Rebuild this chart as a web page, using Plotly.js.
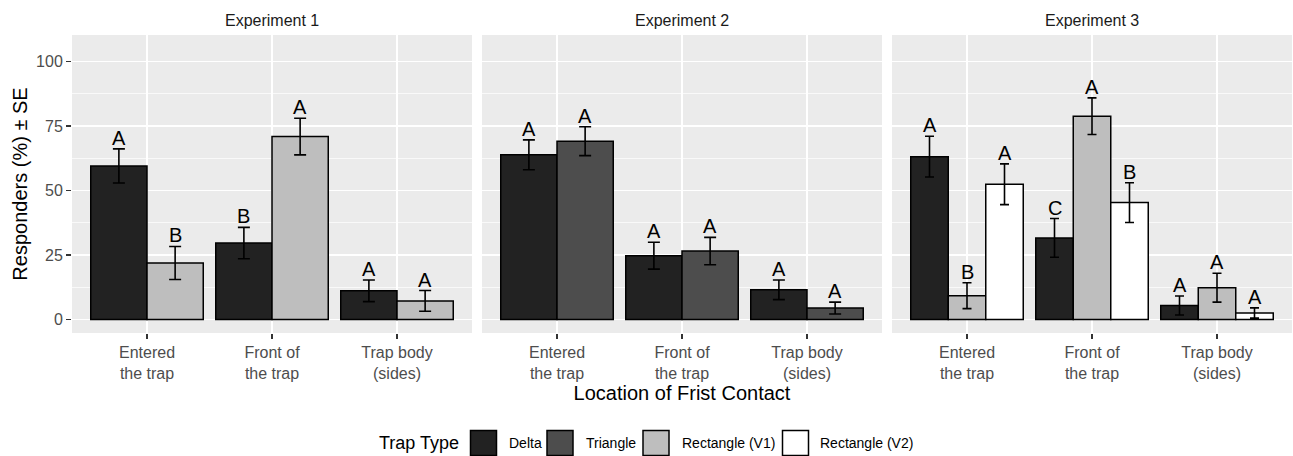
<!DOCTYPE html>
<html><head><meta charset="utf-8">
<script src="https://cdn.plot.ly/plotly-3.0.1.min.js"></script>
<style>body{margin:0;padding:0;background:#fff}</style>
</head><body>
<div id="chart" style="width:1293px;height:456px"></div>
<script>
// ---- data ----
const categories = ["Entered<br>the trap", "Front of<br>the trap", "Trap body<br>(sides)"];
const experiments = ["Experiment 1", "Experiment 2", "Experiment 3"];
const trapTypes = ["Delta", "Triangle", "Rectangle (V1)", "Rectangle (V2)"];
const trapColors = ["#222222", "#4D4D4D", "#BEBEBE", "#FFFFFF"];

// Experiment 1
const exp1Types = ["Delta", "Rectangle (V1)"];
const exp1DeltaMean = [59.5, 29.6, 11.1];
const exp1DeltaSE = [6.6, 6.1, 4.2];
const exp1DeltaLetters = ["A", "B", "A"];
const exp1RectV1Mean = [21.9, 70.9, 7.2];
const exp1RectV1SE = [6.4, 7.1, 4.0];
const exp1RectV1Letters = ["B", "A", "A"];

// Experiment 2
const exp2Types = ["Delta", "Triangle"];
const exp2DeltaMean = [63.8, 24.7, 11.5];
const exp2DeltaSE = [5.8, 5.2, 3.8];
const exp2DeltaLetters = ["A", "A", "A"];
const exp2TriangleMean = [69.1, 26.5, 4.4];
const exp2TriangleSE = [5.6, 5.3, 2.3];
const exp2TriangleLetters = ["A", "A", "A"];

// Experiment 3
const exp3Types = ["Delta", "Rectangle (V1)", "Rectangle (V2)"];
const exp3DeltaMean = [63.1, 31.6, 5.4];
const exp3DeltaSE = [7.9, 7.5, 3.7];
const exp3DeltaLetters = ["A", "C", "A"];
const exp3RectV1Mean = [9.2, 78.8, 12.3];
const exp3RectV1SE = [5.0, 7.1, 5.6];
const exp3RectV1Letters = ["B", "A", "A"];
const exp3RectV2Mean = [52.4, 45.3, 2.5];
const exp3RectV2SE = [7.9, 7.7, 2.0];
const exp3RectV2Letters = ["A", "B", "A"];

const yTicks = [0, 25, 50, 75, 100];

// ---- build ----
const W = 1293, H = 456;
const FONT = "Liberation Sans, Arial, sans-serif";
const px = v => v / W;
const py = v => 1 - v / H;

const panels = [
  {types: exp1Types, means: [exp1DeltaMean, exp1RectV1Mean], ses: [exp1DeltaSE, exp1RectV1SE], letters: [exp1DeltaLetters, exp1RectV1Letters], x0: 72, cap: 6},
  {types: exp2Types, means: [exp2DeltaMean, exp2TriangleMean], ses: [exp2DeltaSE, exp2TriangleSE], letters: [exp2DeltaLetters, exp2TriangleLetters], x0: 482, cap: 6},
  {types: exp3Types, means: [exp3DeltaMean, exp3RectV1Mean, exp3RectV2Mean], ses: [exp3DeltaSE, exp3RectV1SE, exp3RectV2SE], letters: [exp3DeltaLetters, exp3RectV1Letters, exp3RectV2Letters], x0: 892, cap: 4.5}
];
const panelW = 400;
const yDomain = [py(333), py(35)];
const barGap = 0.1;

const traces = [];
const annotations = [];
const layout = {
  width: W, height: H,
  margin: {l: 0, r: 0, t: 0, b: 0},
  paper_bgcolor: "#FFFFFF",
  plot_bgcolor: "#EBEBEB",
  barmode: "group",
  bargap: barGap,
  bargroupgap: 0,
  showlegend: false,
  font: {family: FONT, color: "#000000"},
  shapes: [],
  annotations: annotations
};

panels.forEach((p, i) => {
  const sfx = i === 0 ? "" : String(i + 1);
  const xa = "x" + sfx, ya = "y" + sfx;
  const n = p.types.length;
  p.types.forEach((t, j) => {
    const ci = trapTypes.indexOf(t);
    traces.push({
      type: "bar", name: t, x: categories, y: p.means[j],
      xaxis: xa, yaxis: ya,
      marker: {color: trapColors[ci], line: {color: "#000000", width: 1.5}},
      error_y: {type: "data", array: p.ses[j], visible: true, color: "#000000", thickness: 1.6, width: p.cap},
      hoverinfo: "skip"
    });
    const w = (1 - barGap) / n;
    p.means[j].forEach((m, k) => {
      annotations.push({
        xref: xa, yref: ya, x: k + (j - (n - 1) / 2) * w, y: m + p.ses[j][k],
        text: p.letters[j][k], showarrow: false, yanchor: "bottom", xanchor: "center",
        borderpad: 0, yshift: -1,
        font: {size: 20, color: "#000000", family: FONT}
      });
    });
  });
  layout["xaxis" + sfx] = {
    domain: [px(p.x0), px(p.x0 + panelW)], anchor: ya,
    type: "category", range: [-0.6, 2.6],
    showgrid: true, gridcolor: "#FFFFFF", gridwidth: 1.5,
    zeroline: false, showline: false,
    ticks: "outside", ticklen: 5, tickwidth: 1.3, tickcolor: "#333333",
    tickfont: {size: 16, color: "#4D4D4D", family: FONT},
    fixedrange: true
  };
  layout["yaxis" + sfx] = {
    domain: yDomain, anchor: xa,
    range: [-5.25, 110.25],
    tickmode: "array", tickvals: yTicks, ticktext: yTicks.map(String),
    showticklabels: i === 0,
    ticks: i === 0 ? "outside" : "", ticklen: 5, tickwidth: 1.3, tickcolor: "#333333",
    tickfont: {size: 16, color: "#4D4D4D", family: FONT},
    showgrid: true, gridcolor: "#FFFFFF", gridwidth: 1.5,
    minor: {tickmode: "array", tickvals: [12.5, 37.5, 62.5, 87.5], showgrid: true, gridcolor: "#FFFFFF", gridwidth: 0.7, ticks: ""},
    zeroline: false, showline: false, fixedrange: true
  };
  if (i > 0) layout["yaxis" + sfx].matches = "y";
  annotations.push({
    xref: "paper", yref: "paper", x: px(p.x0 + panelW / 2), y: py(20),
    text: experiments[i], showarrow: false, xanchor: "center", yanchor: "middle",
    font: {size: 16, color: "#1A1A1A", family: FONT}
  });
});

layout.yaxis.title = {text: "Responders (%) ± SE", standoff: 3, font: {size: 20, color: "#000000", family: FONT}};
layout.xaxis2.title = {text: "Location of Frist Contact", standoff: 0, font: {size: 20, color: "#000000", family: FONT}};

// manual legend (layout items)
const legendKeys = [[470.5, 496.5], [547, 573], [643, 669], [782.5, 808.5]];
const legendTextX = [507, 584, 680, 818];
const legendY = 443;
annotations.push({
  xref: "paper", yref: "paper", x: px(377), y: py(legendY), text: "Trap Type",
  showarrow: false, xanchor: "left", yanchor: "middle",
  font: {size: 18, color: "#000000", family: FONT}
});
trapTypes.forEach((t, i) => {
  layout.shapes.push({
    type: "rect", xref: "paper", yref: "paper",
    x0: px(legendKeys[i][0]), x1: px(legendKeys[i][1]),
    y0: py(legendY + 12.5), y1: py(legendY - 12.5),
    fillcolor: trapColors[i], line: {color: "#000000", width: 1.5}
  });
  annotations.push({
    xref: "paper", yref: "paper", x: px(legendTextX[i]), y: py(legendY), text: t,
    showarrow: false, xanchor: "left", yanchor: "middle",
    font: {size: 14, color: "#000000", family: FONT}
  });
});

Plotly.newPlot("chart", traces, layout, {displayModeBar: false, staticPlot: true});
</script>
</body></html>
